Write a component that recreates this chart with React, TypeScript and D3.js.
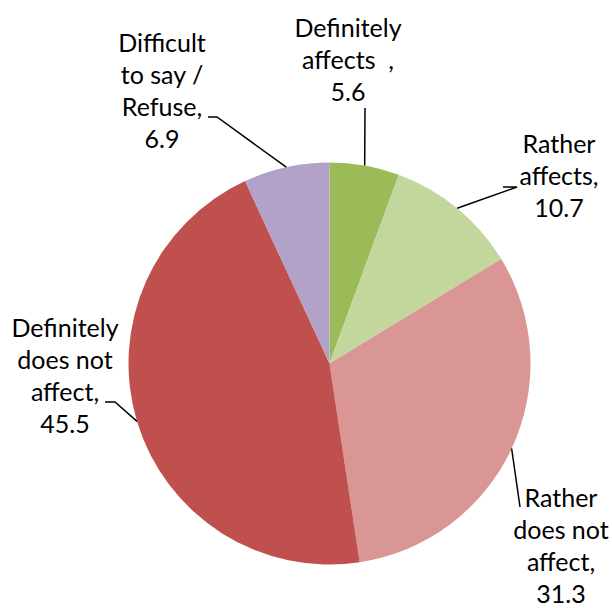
import React from "react";
import * as d3 from "d3";

const categories = [
  "Definitely affects",
  "Rather affects",
  "Rather does not affect",
  "Definitely does not affect",
  "Difficult to say / Refuse",
];
const values = [5.6, 10.7, 31.3, 45.5, 6.9];
const colors = ["#9BBB59", "#C3D69B", "#D99694", "#C0504D", "#B3A2C7"];
const labelLines = [
  ["Definitely", "affects  ,", "5.6"],
  ["Rather", "affects,", "10.7"],
  ["Rather", "does not", "affect,", "31.3"],
  ["Definitely", "does not", "affect,", "45.5"],
  ["Difficult", "to say /", "Refuse,", "6.9"],
];

const W = 612;
const H = 608;
const cx = 329.5;
const cy = 363.5;
const R = 201;

// label layout: text center x, first baseline y, leader elbow points
const layout = [
  { x: 348, y: 37, pts: [[365, 108]] },
  { x: 559, y: 153, pts: [[517, 187], [503, 187]] },
  { x: 561, y: 507, pts: [[520, 507]] },
  { x: 65, y: 337, pts: [[115, 402], [105, 402]] },
  { x: 162, y: 52, pts: [[217, 117], [208, 117]] },
];

export default function App() {
  const pie = d3.pie<number>().sort(null).value((d) => d);
  const arcs = pie(values);
  const arcGen = d3.arc<d3.PieArcDatum<number>>().innerRadius(0).outerRadius(R);
  const edge = d3.arc<d3.PieArcDatum<number>>().innerRadius(R).outerRadius(R);
  const lh = 32;
  return (
    <svg width={W} height={H} style={{ display: "block", position: "absolute", left: 0, top: 0 }}>
      <rect width={W} height={H} fill="#fff" />
      <g transform={`translate(${cx},${cy})`}>
        {arcs.map((a, i) => (
          <path key={categories[i]} d={arcGen(a) || ""} fill={colors[i]} />
        ))}
      </g>
      {arcs.map((a, i) => {
        const [ex, ey] = edge.centroid(a);
        const pts = [[cx + ex, cy + ey], ...layout[i].pts];
        const line = d3.line()(pts as [number, number][]) || "";
        return <path key={"l" + i} d={line} fill="none" stroke="#000" strokeWidth={1.5} />;
      })}
      {labelLines.map((lines, i) => (
        <text
          key={"t" + i}
          x={layout[i].x}
          y={layout[i].y}
          textAnchor="middle"
          fontFamily="Lato, 'Open Sans', sans-serif"
          fontSize={25}
          fill="#000"
          style={{ whiteSpace: "pre" }}
        >
          {lines.map((s, j) => (
            <tspan key={j} x={layout[i].x} y={layout[i].y + j * lh}>
              {s}
            </tspan>
          ))}
        </text>
      ))}
    </svg>
  );
}
